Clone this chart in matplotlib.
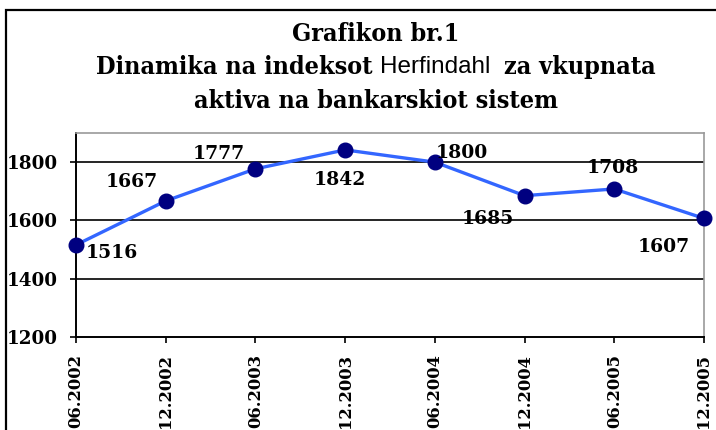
import matplotlib.pyplot as plt
from matplotlib.patches import Rectangle

periods = ["06.2002", "12.2002", "06.2003", "12.2003",
           "06.2004", "12.2004", "06.2005", "12.2005"]
index_values = [1516, 1667, 1777, 1842, 1800, 1685, 1708, 1607]
# label offsets in pixels (dx, dy) relative to each point
label_offsets = [(36, -8), (-34, 19), (-37, 15), (-5, -30),
                 (27, 9), (-37, -23), (-1, 21), (-40, -29)]
y_ticks = [1200, 1400, 1600, 1800]

W, H = 716, 430
fig = plt.figure(figsize=(W / 100, H / 100), dpi=100)
fig.patch.set_facecolor("white")

serif = "DejaVu Serif"
sans = "Liberation Sans"

ax = fig.add_axes([76 / W, 1 - 337 / H, (704 - 76) / W, (337 - 133) / H])
x = list(range(len(periods)))

for v in y_ticks[1:]:
    ax.axhline(v, color="black", lw=1.2, zorder=1)

ax.plot(x, index_values, color="#3366FF", lw=2.4, zorder=3, clip_on=False)
ax.plot(x, index_values, "o", color="#000080", ms=10.5, zorder=4, clip_on=False)

for xi, v, (dx, dy) in zip(x, index_values, label_offsets):
    ax.annotate(str(v), (xi, v), xytext=(dx, dy), textcoords="offset pixels",
                ha="center", va="center", fontsize=13.5, fontweight="bold",
                family=serif, zorder=5)

ax.set_xlim(0, 7)
ax.set_ylim(1200, 1900)
ax.set_yticks(y_ticks)
ax.set_xticks(x)
ax.set_xticklabels(periods, rotation=90, va="top", ha="center")
ax.tick_params(axis="both", direction="out", length=4, width=1.2, color="black")
ax.tick_params(axis="y", pad=9, labelsize=13.2)
ax.tick_params(axis="x", pad=8, labelsize=11.8)
for lab in ax.get_xticklabels() + ax.get_yticklabels():
    lab.set_family(serif)
    lab.set_fontweight("bold")

ax.spines["left"].set_color("black")
ax.spines["bottom"].set_color("black")
ax.spines["left"].set_linewidth(1.4)
ax.spines["bottom"].set_linewidth(1.4)
ax.spines["top"].set_color("#999999")
ax.spines["right"].set_color("#999999")
ax.spines["top"].set_linewidth(1.2)
ax.spines["right"].set_linewidth(1.2)

# outer chart frame (cut off at the right and bottom)
fig.add_artist(Rectangle((6 / W, -0.2), 1.5, 1.2 - 10 / H, transform=fig.transFigure,
                         fill=False, lw=1.6, edgecolor="black"))

# title, three centred lines; middle line mixes fonts
cx = 376 / W
tsize = 18
tkw = dict(fontsize=tsize, fontweight="bold", family=serif, stretch="condensed")
fig.text(cx, 1 - 34 / H, "Grafikon br.1", ha="center", va="center", **tkw)
fig.text(cx, 1 - 101 / H, "aktiva na bankarskiot sistem", ha="center", va="center", **tkw)

parts = [("Dinamika na indeksot ", tkw),
         ("Herfindahl  ", dict(fontsize=17.5, family=sans)),
         ("za vkupnata", tkw)]
renderer = fig.canvas.get_renderer()
texts = []
for s, kw in parts:
    t = fig.text(0, 1 - 67 / H, s, ha="left", va="center", **kw)
    texts.append(t)
widths = [t.get_window_extent(renderer).width for t in texts]
xpos = cx * W - sum(widths) / 2
for t, w in zip(texts, widths):
    t.set_x(xpos / W)
    xpos += w

fig.savefig("out.png", dpi=100)
